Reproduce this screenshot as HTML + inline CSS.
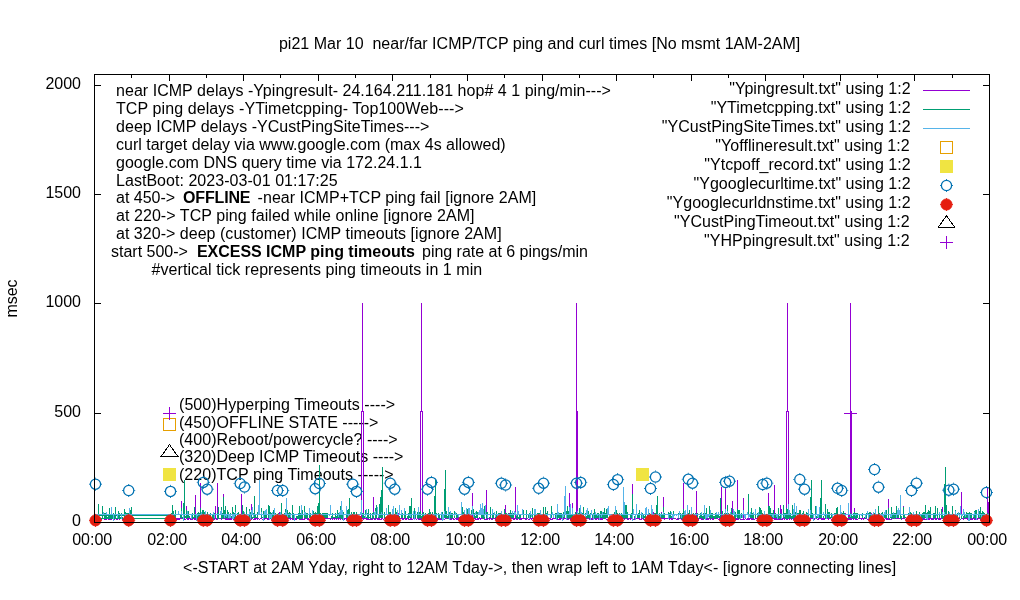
<!DOCTYPE html>
<html lang="en"><head><meta charset="utf-8"><title>pi21 Mar 10 near/far ICMP/TCP ping and curl times</title>
<style>html,body{margin:0;padding:0;background:#fff;width:1020px;height:600px;overflow:hidden}svg{display:block}text{font-family:"Liberation Sans",sans-serif;font-size:16px;fill:#000;white-space:pre}</style>
</head><body>
<svg width="1020" height="600" viewBox="0 0 1020 600" shape-rendering="crispEdges">
<rect width="1020" height="600" fill="#fff"/>
<path d="M94.5 75v6 M94.5 522v-6 M131.5 75v3 M131.5 522v-3 M169.5 75v6 M169.5 522v-6 M206.5 75v3 M206.5 522v-3 M243.5 75v6 M243.5 522v-6 M280.5 75v3 M280.5 522v-3 M318.5 75v6 M318.5 522v-6 M355.5 75v3 M355.5 522v-3 M392.5 75v6 M392.5 522v-6 M430.5 75v3 M430.5 522v-3 M467.5 75v6 M467.5 522v-6 M504.5 75v3 M504.5 522v-3 M542.5 75v6 M542.5 522v-6 M579.5 75v3 M579.5 522v-3 M616.5 75v6 M616.5 522v-6 M653.5 75v3 M653.5 522v-3 M691.5 75v6 M691.5 522v-6 M728.5 75v3 M728.5 522v-3 M765.5 75v6 M765.5 522v-6 M803.5 75v3 M803.5 522v-3 M840.5 75v6 M840.5 522v-6 M877.5 75v3 M877.5 522v-3 M914.5 75v6 M914.5 522v-6 M952.5 75v3 M952.5 522v-3 M989.5 75v6 M989.5 522v-6 M95 522.5h6 M989 522.5h-6 M95 413.5h6 M989 413.5h-6 M95 303.5h6 M989 303.5h-6 M95 194.5h6 M989 194.5h-6 M95 85.5h6 M989 85.5h-6" fill="none" stroke="#000" stroke-width="1"/>
<text x="116.0" y="96.0" textLength="494.9" lengthAdjust="spacing">near ICMP delays -Ypingresult- 24.164.211.181 hop# 4 1 ping/min---&gt;</text>
<text x="116.0" y="113.9" textLength="347.8" lengthAdjust="spacing">TCP ping delays -YTimetcpping- Top100Web---&gt;</text>
<text x="116.0" y="131.8" textLength="313.4" lengthAdjust="spacing">deep ICMP delays -YCustPingSiteTimes---&gt;</text>
<text x="116.0" y="149.7" textLength="389.7" lengthAdjust="spacing">curl target delay via www.google.com (max 4s allowed)</text>
<text x="116.0" y="167.6" textLength="306.0" lengthAdjust="spacing">google.com DNS query time via 172.24.1.1</text>
<text x="116.0" y="185.5" textLength="221.7" lengthAdjust="spacing">LastBoot: 2023-03-01 01:17:25</text>
<text x="116.0" y="203.4" textLength="59.2" lengthAdjust="spacing">at 450-&gt;</text>
<text x="183.1" y="203.4" font-weight="bold" textLength="67.4" lengthAdjust="spacing">OFFLINE</text>
<text x="257.6" y="203.4" textLength="278.6" lengthAdjust="spacing">-near ICMP+TCP ping fail [ignore 2AM]</text>
<text x="116.0" y="221.3" textLength="358.5" lengthAdjust="spacing">at 220-&gt; TCP ping failed while online [ignore 2AM]</text>
<text x="116.0" y="239.2" textLength="385.6" lengthAdjust="spacing">at 320-&gt; deep (customer) ICMP timeouts [ignore 2AM]</text>
<text x="111.0" y="257.1" textLength="76.9" lengthAdjust="spacing">start 500-&gt;</text>
<text x="196.9" y="257.1" font-weight="bold" textLength="218.0" lengthAdjust="spacing">EXCESS ICMP ping timeouts</text>
<text x="422.0" y="257.1" textLength="165.9" lengthAdjust="spacing">ping rate at 6 pings/min</text>
<text x="151.6" y="275.0" textLength="330.6" lengthAdjust="spacing">#vertical tick represents ping timeouts in 1 min</text>
<text x="179.0" y="410.0" textLength="216.2" lengthAdjust="spacing">(500)Hyperping Timeouts ----&gt;</text>
<text x="179.0" y="427.5" textLength="199.4" lengthAdjust="spacing">(450)OFFLINE STATE -----&gt;</text>
<text x="179.0" y="445.0" textLength="218.7" lengthAdjust="spacing">(400)Reboot/powercycle? ----&gt;</text>
<text x="179.0" y="462.4" textLength="224.4" lengthAdjust="spacing">(320)Deep ICMP Timeouts ----&gt;</text>
<text x="179.0" y="479.9" textLength="214.7" lengthAdjust="spacing">(220)TCP ping Timeouts -----&gt;</text>
<g fill="none" stroke-width="1" shape-rendering="crispEdges">
<path stroke="#9400D3" d="M98.5 518V519 M99.5 518V519 M100.5 518V519 M101.5 518V520 M102.5 518V519 M103.5 518V519 M104.5 518V520 M105.5 519V520 M106.5 519V520 M107.5 518V519 M108.5 518V520 M109.5 518V520 M110.5 518V520 M111.5 518V520 M112.5 518V519 M113.5 518V519 M114.5 519V520 M115.5 518V519 M116.5 519V520 M117.5 518V520 M118.5 518V519 M119.5 518V520 M120.5 518V519 M121.5 518V519 M122.5 519V520 M123.5 518V520 M124.5 518V519 M125.5 518V520 M126.5 518V519 M127.5 518V520 M128.5 518V519 M129.5 519V520 M130.5 518V519 M131.5 518V520 M169.5 518V520 M170.5 518V520 M171.5 518V520 M172.5 518V519 M173.5 518V519 M174.5 519V520 M175.5 518V519 M176.5 518V520 M177.5 518V520 M178.5 518V520 M179.5 518V520 M180.5 518V519 M181.5 501V519 M182.5 518V519 M183.5 518V520 M184.5 518V520 M185.5 519V520 M186.5 506V519 M187.5 511V520 M188.5 518V520 M189.5 518V519 M190.5 518V520 M191.5 518V520 M192.5 518V520 M193.5 518V519 M194.5 518V520 M195.5 495V520 M196.5 518V520 M197.5 518V520 M198.5 518V520 M199.5 519V520 M200.5 483V520 M201.5 518V520 M202.5 519V520 M203.5 518V519 M204.5 518V519 M205.5 518V519 M206.5 518V520 M207.5 518V520 M208.5 518V519 M209.5 518V519 M210.5 518V520 M211.5 518V519 M212.5 518V519 M213.5 518V520 M214.5 518V520 M215.5 506V519 M216.5 518V520 M217.5 483V520 M218.5 518V519 M219.5 518V519 M220.5 518V519 M221.5 518V520 M222.5 518V519 M223.5 494V519 M224.5 518V519 M225.5 518V520 M226.5 518V520 M227.5 518V520 M228.5 518V520 M229.5 518V520 M230.5 518V520 M231.5 518V520 M232.5 518V519 M233.5 518V520 M234.5 518V520 M235.5 518V520 M236.5 518V520 M237.5 518V519 M238.5 519V520 M239.5 518V520 M240.5 518V519 M241.5 494V519 M242.5 518V520 M243.5 518V520 M244.5 518V519 M245.5 518V519 M246.5 518V520 M247.5 518V519 M248.5 518V520 M249.5 518V520 M250.5 518V519 M251.5 504V520 M252.5 518V519 M253.5 519V520 M254.5 518V520 M255.5 518V520 M256.5 518V519 M257.5 518V520 M258.5 518V519 M259.5 519V520 M260.5 518V519 M261.5 518V519 M262.5 519V520 M263.5 518V520 M264.5 518V520 M265.5 518V519 M266.5 518V519 M267.5 518V520 M268.5 518V520 M269.5 518V520 M270.5 518V519 M271.5 519V520 M272.5 518V519 M273.5 518V519 M274.5 518V520 M275.5 515V520 M276.5 519V520 M277.5 518V520 M278.5 519V520 M279.5 512V519 M280.5 518V520 M281.5 518V519 M282.5 519V520 M283.5 518V520 M284.5 518V519 M285.5 519V520 M286.5 518V520 M287.5 518V519 M288.5 518V519 M289.5 518V519 M290.5 518V520 M291.5 518V519 M292.5 518V520 M293.5 518V520 M294.5 518V520 M295.5 518V520 M296.5 518V520 M297.5 518V519 M298.5 518V519 M299.5 518V520 M300.5 518V520 M301.5 518V520 M302.5 518V520 M303.5 519V520 M304.5 518V520 M305.5 518V519 M306.5 518V519 M307.5 518V520 M308.5 518V520 M309.5 519V520 M310.5 519V520 M311.5 518V520 M312.5 518V519 M313.5 518V519 M314.5 518V520 M315.5 518V519 M316.5 518V519 M317.5 519V520 M318.5 518V519 M319.5 519V520 M320.5 519V520 M321.5 518V520 M322.5 518V520 M323.5 518V520 M324.5 518V520 M325.5 518V519 M326.5 518V519 M327.5 518V519 M328.5 518V519 M329.5 518V519 M330.5 518V520 M331.5 518V519 M332.5 518V520 M333.5 518V519 M334.5 518V520 M335.5 518V519 M336.5 519V520 M337.5 518V519 M338.5 518V520 M339.5 518V519 M340.5 518V520 M341.5 518V519 M342.5 519V520 M343.5 518V519 M344.5 518V520 M345.5 518V519 M346.5 518V520 M347.5 518V520 M348.5 519V520 M349.5 519V520 M350.5 518V520 M351.5 519V520 M352.5 519V520 M353.5 518V519 M354.5 518V519 M355.5 519V520 M356.5 518V520 M357.5 518V520 M358.5 518V520 M359.5 518V519 M360.5 518V519 M361.5 518V519 M362.5 518V519 M363.5 518V520 M364.5 518V519 M365.5 512V519 M366.5 518V520 M367.5 518V520 M368.5 519V520 M369.5 519V520 M370.5 518V520 M371.5 518V520 M372.5 518V520 M373.5 497V519 M374.5 518V520 M375.5 518V520 M376.5 518V519 M377.5 518V520 M378.5 518V520 M379.5 518V520 M380.5 519V520 M381.5 518V520 M382.5 518V519 M383.5 519V520 M384.5 518V519 M385.5 519V520 M386.5 518V519 M387.5 518V519 M388.5 518V519 M389.5 518V520 M390.5 518V519 M391.5 518V519 M392.5 518V519 M393.5 518V520 M394.5 518V520 M395.5 518V519 M396.5 518V519 M397.5 518V519 M398.5 513V519 M399.5 518V520 M400.5 518V519 M401.5 518V519 M402.5 518V520 M403.5 518V520 M404.5 518V519 M405.5 518V520 M406.5 518V520 M407.5 518V519 M408.5 518V520 M409.5 519V520 M410.5 518V520 M411.5 518V520 M412.5 519V520 M413.5 518V519 M414.5 519V520 M415.5 518V519 M416.5 519V520 M417.5 518V519 M418.5 519V520 M419.5 518V520 M420.5 518V520 M421.5 518V520 M422.5 518V519 M423.5 518V519 M424.5 518V520 M425.5 519V520 M426.5 518V519 M427.5 518V520 M428.5 519V520 M429.5 519V520 M430.5 518V519 M431.5 518V519 M432.5 518V520 M433.5 519V520 M434.5 518V519 M435.5 518V520 M436.5 518V519 M437.5 518V520 M438.5 518V520 M439.5 518V520 M440.5 518V520 M441.5 518V520 M442.5 518V520 M443.5 518V520 M444.5 519V520 M445.5 518V519 M446.5 518V519 M447.5 518V519 M448.5 518V519 M449.5 518V520 M450.5 518V520 M451.5 518V520 M452.5 518V519 M453.5 518V520 M454.5 519V520 M455.5 518V519 M456.5 518V520 M457.5 518V520 M458.5 515V520 M459.5 518V519 M460.5 518V519 M461.5 518V520 M462.5 519V520 M463.5 518V520 M464.5 518V519 M465.5 518V520 M466.5 518V520 M467.5 518V519 M468.5 518V520 M469.5 518V519 M470.5 518V519 M471.5 518V520 M472.5 493V520 M473.5 518V519 M474.5 518V519 M475.5 518V520 M476.5 519V520 M477.5 518V520 M478.5 518V520 M479.5 518V519 M480.5 518V520 M481.5 518V519 M482.5 518V519 M483.5 518V519 M484.5 518V520 M485.5 519V520 M486.5 490V520 M487.5 518V520 M488.5 518V519 M489.5 518V520 M490.5 518V519 M491.5 518V520 M492.5 518V520 M493.5 518V519 M494.5 518V519 M495.5 518V520 M496.5 519V520 M497.5 518V519 M498.5 518V519 M499.5 518V520 M500.5 518V520 M501.5 518V519 M502.5 518V520 M503.5 518V519 M504.5 519V520 M505.5 505V520 M506.5 518V520 M507.5 518V520 M508.5 518V520 M509.5 513V520 M510.5 518V519 M511.5 518V519 M512.5 518V519 M513.5 518V520 M514.5 518V520 M515.5 487V519 M516.5 518V520 M517.5 518V520 M518.5 518V519 M519.5 519V520 M520.5 518V520 M521.5 518V520 M522.5 518V519 M523.5 518V519 M524.5 518V519 M525.5 518V520 M526.5 519V520 M527.5 518V519 M528.5 519V520 M529.5 518V520 M530.5 518V519 M531.5 518V520 M532.5 518V519 M533.5 518V519 M534.5 518V520 M535.5 515V520 M536.5 518V519 M537.5 519V520 M538.5 518V520 M539.5 518V519 M540.5 518V519 M541.5 518V519 M542.5 514V520 M543.5 518V519 M544.5 518V520 M545.5 518V519 M546.5 518V519 M547.5 518V519 M548.5 518V519 M549.5 518V519 M550.5 518V520 M551.5 519V520 M552.5 518V520 M553.5 518V519 M554.5 518V519 M555.5 518V519 M556.5 518V520 M557.5 519V520 M558.5 519V520 M559.5 518V520 M560.5 518V520 M561.5 518V519 M562.5 514V520 M563.5 518V520 M564.5 518V519 M565.5 518V519 M566.5 518V520 M567.5 518V520 M568.5 519V520 M569.5 493V519 M570.5 518V520 M571.5 518V520 M572.5 503V520 M573.5 518V520 M574.5 518V519 M575.5 518V519 M576.5 518V519 M577.5 518V519 M578.5 519V520 M579.5 518V519 M580.5 518V520 M581.5 514V520 M582.5 519V520 M583.5 518V519 M584.5 519V520 M585.5 518V519 M586.5 518V519 M587.5 518V519 M588.5 518V519 M589.5 518V520 M590.5 518V519 M591.5 518V520 M592.5 515V520 M593.5 518V519 M594.5 518V519 M595.5 519V520 M596.5 518V520 M597.5 518V519 M598.5 518V520 M599.5 518V520 M600.5 518V520 M601.5 518V520 M602.5 518V520 M603.5 518V519 M604.5 518V519 M605.5 518V519 M606.5 519V520 M607.5 519V520 M608.5 518V520 M609.5 518V520 M610.5 519V520 M611.5 518V519 M612.5 518V519 M613.5 518V520 M614.5 518V520 M615.5 518V520 M616.5 518V520 M617.5 518V519 M618.5 519V520 M619.5 518V520 M620.5 518V519 M621.5 518V520 M622.5 518V520 M623.5 518V519 M624.5 519V520 M625.5 512V519 M626.5 518V519 M627.5 518V520 M628.5 518V520 M629.5 518V519 M630.5 518V520 M631.5 518V519 M632.5 484V519 M633.5 519V520 M634.5 518V520 M635.5 518V519 M636.5 518V519 M637.5 518V519 M638.5 518V519 M639.5 518V520 M640.5 519V520 M641.5 518V520 M642.5 518V519 M643.5 518V520 M644.5 519V520 M645.5 519V520 M646.5 518V519 M647.5 515V520 M648.5 518V519 M649.5 518V520 M650.5 518V520 M651.5 518V520 M652.5 518V519 M653.5 512V520 M654.5 518V519 M655.5 518V520 M656.5 518V519 M657.5 518V519 M658.5 518V520 M659.5 518V520 M660.5 518V519 M661.5 512V519 M662.5 518V519 M663.5 497V519 M664.5 518V520 M665.5 518V519 M666.5 518V519 M667.5 518V519 M668.5 518V519 M669.5 518V520 M670.5 518V519 M671.5 518V520 M672.5 518V520 M673.5 518V519 M674.5 518V519 M675.5 518V519 M676.5 519V520 M677.5 518V520 M678.5 518V520 M679.5 518V519 M680.5 518V519 M681.5 519V520 M682.5 518V520 M683.5 483V520 M684.5 518V520 M685.5 518V520 M686.5 518V520 M687.5 518V519 M688.5 518V519 M689.5 518V519 M690.5 518V519 M691.5 518V520 M692.5 518V520 M693.5 519V520 M694.5 518V519 M695.5 518V519 M696.5 491V520 M697.5 518V519 M698.5 518V520 M699.5 518V519 M700.5 518V519 M701.5 518V520 M702.5 519V520 M703.5 519V520 M704.5 518V519 M705.5 518V519 M706.5 518V520 M707.5 519V520 M708.5 518V520 M709.5 518V519 M710.5 518V520 M711.5 518V519 M712.5 518V520 M713.5 518V520 M714.5 518V519 M715.5 518V519 M716.5 518V519 M717.5 518V519 M718.5 519V520 M719.5 518V520 M720.5 518V519 M721.5 487V520 M722.5 518V520 M723.5 518V519 M724.5 518V519 M725.5 489V519 M726.5 518V519 M727.5 518V520 M728.5 518V520 M729.5 518V520 M730.5 518V520 M731.5 518V519 M732.5 501V520 M733.5 518V519 M734.5 518V519 M735.5 518V520 M736.5 518V520 M737.5 480V520 M738.5 518V520 M739.5 518V519 M740.5 518V520 M741.5 519V520 M742.5 519V520 M743.5 498V520 M744.5 519V520 M745.5 518V519 M746.5 519V520 M747.5 518V520 M748.5 518V520 M749.5 518V520 M750.5 518V519 M751.5 518V520 M752.5 515V520 M753.5 518V520 M754.5 519V520 M755.5 518V519 M756.5 518V519 M757.5 518V520 M758.5 518V520 M759.5 518V519 M760.5 518V519 M761.5 518V519 M762.5 519V520 M763.5 518V520 M764.5 518V519 M765.5 518V519 M766.5 519V520 M767.5 519V520 M768.5 493V520 M769.5 518V520 M770.5 518V520 M771.5 518V519 M772.5 518V519 M773.5 518V519 M774.5 485V520 M775.5 518V520 M776.5 518V520 M777.5 518V520 M778.5 519V520 M779.5 518V520 M780.5 505V520 M781.5 509V520 M782.5 518V520 M783.5 518V519 M784.5 518V520 M785.5 518V519 M786.5 519V520 M787.5 518V520 M788.5 518V519 M789.5 518V520 M790.5 518V519 M791.5 518V520 M792.5 513V519 M793.5 518V520 M794.5 518V520 M795.5 518V519 M796.5 518V520 M797.5 518V519 M798.5 518V520 M799.5 518V520 M800.5 518V519 M801.5 518V520 M802.5 518V520 M803.5 518V519 M804.5 518V520 M805.5 518V520 M806.5 518V519 M807.5 518V520 M808.5 510V520 M809.5 518V520 M810.5 518V520 M811.5 518V519 M812.5 518V519 M813.5 518V519 M814.5 518V520 M815.5 518V519 M816.5 518V519 M817.5 519V520 M818.5 518V520 M819.5 518V519 M820.5 518V519 M821.5 518V520 M822.5 518V520 M823.5 518V520 M824.5 518V520 M825.5 518V519 M826.5 518V519 M827.5 518V519 M828.5 518V520 M829.5 518V519 M830.5 518V519 M831.5 519V520 M832.5 518V520 M833.5 519V520 M834.5 519V520 M835.5 518V520 M836.5 518V520 M837.5 518V519 M838.5 518V520 M839.5 518V519 M840.5 518V519 M841.5 518V520 M842.5 518V519 M843.5 518V520 M844.5 518V520 M845.5 513V520 M846.5 518V520 M847.5 518V520 M848.5 515V520 M849.5 515V520 M850.5 518V520 M851.5 519V520 M852.5 518V519 M853.5 518V520 M854.5 508V519 M855.5 518V520 M856.5 518V520 M857.5 519V520 M858.5 518V519 M859.5 518V519 M860.5 518V519 M861.5 518V520 M862.5 518V519 M863.5 518V520 M864.5 518V519 M865.5 518V519 M866.5 518V519 M867.5 519V520 M868.5 518V520 M869.5 518V520 M870.5 518V520 M871.5 513V520 M872.5 519V520 M873.5 518V519 M874.5 518V520 M875.5 518V519 M876.5 518V519 M877.5 518V520 M878.5 519V520 M879.5 519V520 M880.5 519V520 M881.5 519V520 M882.5 518V520 M883.5 518V520 M884.5 519V520 M885.5 518V519 M886.5 518V520 M887.5 518V520 M888.5 499V520 M889.5 518V520 M890.5 519V520 M891.5 519V520 M892.5 518V519 M893.5 515V519 M894.5 518V519 M895.5 514V519 M896.5 518V519 M897.5 518V519 M898.5 518V519 M899.5 518V519 M900.5 518V519 M901.5 518V520 M902.5 518V519 M903.5 506V519 M904.5 518V519 M905.5 519V520 M906.5 518V520 M907.5 518V519 M908.5 513V519 M909.5 518V520 M910.5 518V519 M911.5 518V520 M912.5 518V519 M913.5 518V519 M914.5 518V519 M915.5 518V519 M916.5 518V519 M917.5 518V520 M918.5 518V519 M919.5 518V520 M920.5 518V520 M921.5 518V520 M922.5 518V520 M923.5 512V520 M924.5 518V520 M925.5 519V520 M926.5 518V520 M927.5 518V520 M928.5 518V520 M929.5 518V520 M930.5 518V519 M931.5 518V520 M932.5 518V520 M933.5 519V520 M934.5 518V519 M935.5 518V520 M936.5 518V520 M937.5 518V519 M938.5 518V520 M939.5 518V520 M940.5 518V520 M941.5 518V519 M942.5 507V519 M943.5 518V519 M944.5 518V519 M945.5 519V520 M946.5 518V519 M947.5 518V520 M948.5 518V519 M949.5 518V519 M950.5 518V520 M951.5 518V520 M952.5 518V520 M953.5 519V520 M954.5 518V519 M955.5 518V520 M956.5 518V520 M957.5 519V520 M958.5 518V519 M959.5 518V519 M960.5 519V520 M961.5 492V519 M962.5 518V519 M963.5 518V520 M964.5 518V519 M965.5 518V519 M966.5 518V519 M967.5 518V520 M968.5 519V520 M969.5 518V519 M970.5 518V520 M971.5 518V520 M972.5 518V520 M973.5 518V519 M974.5 518V520 M975.5 518V520 M976.5 518V520 M977.5 518V520 M978.5 518V519 M979.5 518V519 M980.5 518V520 M981.5 518V520 M982.5 518V520 M983.5 513V520 M984.5 518V519 M985.5 518V519 M986.5 518V520 M987.5 488V520 M988.5 502V520"/>
<path stroke="#9400D3" d="M361.5 519V411.5H362.5V303V411.5H363.5V519 M420.5 519V411.5H421.5V303V411.5H422.5V519 M576.5 519V303 M577.5 519V411 M786.5 519V411.5H787.5V303V411.5H788.5V519 M850.5 519V303 M851.5 519V411"/>
<path stroke="#009E73" d="M95 515.5H170 M95 518.5H170"/>
<path stroke="#009E73" d="M98.5 504V518 M99.5 517V519 M102.5 506V518 M104.5 513V519 M105.5 513V518 M106.5 515V518 M107.5 517V518 M108.5 516V519 M109.5 508V519 M110.5 516V519 M111.5 509V519 M112.5 515V518 M113.5 513V519 M114.5 516V519 M115.5 507V518 M118.5 511V518 M119.5 513V518 M120.5 517V518 M121.5 513V518 M122.5 517V518 M124.5 509V518 M125.5 512V518 M126.5 513V518 M127.5 513V519 M128.5 513V518 M129.5 508V519 M130.5 510V519 M131.5 507V518 M169.5 517V519 M170.5 515V518 M171.5 513V519 M172.5 505V518 M173.5 511V518 M174.5 515V519 M175.5 510V519 M180.5 515V518 M181.5 508V518 M182.5 517V519 M183.5 503V518 M184.5 480V518 M185.5 516V518 M186.5 510V519 M187.5 513V518 M188.5 511V518 M189.5 516V518 M191.5 515V518 M192.5 513V519 M193.5 517V518 M194.5 507V518 M195.5 515V518 M196.5 516V519 M197.5 513V519 M198.5 512V518 M199.5 513V518 M200.5 508V518 M201.5 515V518 M202.5 510V518 M203.5 510V518 M204.5 512V518 M205.5 513V518 M207.5 512V519 M208.5 516V519 M209.5 515V518 M210.5 513V518 M212.5 515V518 M213.5 512V519 M214.5 513V519 M217.5 513V519 M218.5 507V519 M221.5 507V519 M222.5 513V519 M223.5 497V518 M224.5 510V518 M225.5 506V519 M226.5 515V518 M227.5 510V518 M228.5 512V519 M229.5 515V518 M230.5 513V518 M231.5 516V518 M232.5 507V518 M233.5 512V518 M234.5 513V519 M235.5 505V518 M237.5 513V518 M238.5 512V518 M239.5 516V519 M241.5 515V518 M242.5 505V518 M243.5 511V519 M244.5 512V518 M246.5 507V518 M249.5 509V519 M250.5 512V518 M251.5 515V518 M252.5 517V519 M253.5 513V518 M254.5 496V518 M255.5 515V518 M256.5 517V518 M257.5 512V518 M261.5 508V518 M262.5 517V518 M263.5 511V518 M264.5 513V518 M265.5 511V518 M266.5 513V518 M268.5 505V518 M269.5 506V518 M270.5 512V519 M271.5 513V518 M272.5 512V518 M273.5 510V519 M275.5 513V519 M278.5 513V518 M280.5 513V518 M281.5 503V518 M284.5 513V519 M285.5 509V518 M286.5 498V518 M287.5 510V518 M288.5 513V518 M289.5 512V518 M290.5 513V518 M292.5 505V518 M293.5 513V519 M296.5 516V518 M297.5 516V519 M298.5 513V519 M299.5 506V519 M300.5 513V519 M301.5 513V519 M302.5 510V518 M304.5 506V518 M305.5 513V518 M306.5 513V519 M307.5 513V518 M309.5 509V518 M310.5 513V518 M311.5 517V519 M312.5 515V518 M313.5 511V518 M314.5 513V518 M315.5 512V518 M316.5 513V518 M317.5 506V519 M318.5 503V518 M319.5 465V518 M320.5 513V519 M321.5 516V518 M322.5 513V518 M323.5 513V518 M324.5 513V518 M325.5 513V518 M326.5 513V518 M327.5 513V518 M331.5 516V519 M332.5 513V518 M333.5 517V518 M334.5 517V518 M335.5 513V518 M336.5 516V519 M337.5 510V518 M338.5 513V518 M339.5 512V518 M340.5 506V518 M341.5 512V519 M342.5 512V519 M343.5 512V518 M346.5 513V518 M347.5 510V518 M348.5 509V518 M349.5 498V518 M350.5 515V518 M351.5 512V519 M353.5 512V518 M354.5 512V518 M355.5 515V519 M356.5 512V519 M360.5 516V518 M362.5 513V518 M363.5 513V518 M364.5 516V518 M365.5 510V518 M366.5 517V518 M367.5 513V518 M368.5 509V519 M369.5 517V518 M370.5 513V519 M372.5 513V519 M373.5 512V518 M375.5 508V519 M376.5 505V518 M378.5 515V518 M379.5 504V518 M380.5 497V518 M381.5 490V518 M382.5 467V518 M384.5 512V518 M385.5 517V519 M388.5 505V518 M389.5 512V518 M390.5 512V518 M392.5 513V518 M393.5 517V519 M395.5 508V518 M396.5 512V518 M397.5 512V518 M398.5 516V518 M399.5 516V519 M401.5 513V518 M402.5 513V518 M404.5 513V519 M405.5 511V518 M407.5 516V518 M408.5 513V519 M409.5 506V518 M410.5 506V518 M411.5 498V518 M413.5 512V518 M414.5 508V518 M415.5 513V518 M417.5 512V518 M418.5 515V519 M419.5 512V518 M420.5 511V518 M421.5 516V519 M422.5 513V518 M423.5 512V518 M425.5 513V519 M427.5 516V519 M428.5 513V518 M429.5 509V518 M430.5 512V519 M432.5 512V519 M433.5 516V518 M434.5 496V518 M435.5 480V518 M436.5 513V519 M438.5 513V518 M439.5 515V519 M441.5 515V519 M442.5 512V518 M444.5 489V518 M445.5 470V518 M446.5 511V518 M447.5 516V519 M448.5 513V518 M449.5 512V518 M450.5 513V518 M451.5 513V519 M452.5 513V518 M454.5 511V518 M456.5 513V518 M457.5 515V518 M459.5 517V519 M460.5 516V518 M462.5 507V518 M463.5 512V519 M464.5 513V519 M466.5 515V518 M467.5 509V519 M468.5 510V518 M469.5 511V518 M471.5 510V518 M473.5 509V519 M474.5 513V518 M475.5 516V518 M476.5 511V518 M477.5 512V518 M479.5 517V518 M481.5 515V518 M482.5 505V518 M483.5 515V519 M484.5 506V519 M486.5 512V518 M487.5 512V519 M489.5 517V518 M490.5 507V518 M492.5 511V519 M493.5 513V518 M495.5 517V518 M496.5 511V518 M497.5 517V518 M498.5 513V519 M499.5 513V518 M500.5 513V519 M501.5 513V519 M502.5 516V518 M503.5 515V518 M504.5 509V518 M505.5 513V519 M506.5 513V518 M508.5 513V518 M509.5 515V518 M510.5 510V518 M511.5 513V518 M512.5 513V518 M513.5 513V518 M516.5 515V519 M517.5 506V518 M518.5 517V519 M519.5 515V519 M520.5 515V518 M523.5 510V518 M526.5 510V519 M528.5 515V518 M529.5 513V518 M530.5 515V518 M532.5 508V518 M534.5 513V518 M535.5 512V518 M536.5 517V518 M537.5 513V518 M538.5 513V518 M539.5 513V519 M543.5 507V518 M544.5 515V518 M545.5 507V519 M546.5 513V518 M547.5 511V518 M550.5 515V518 M551.5 506V518 M553.5 515V518 M555.5 513V518 M556.5 513V519 M557.5 513V519 M558.5 512V518 M559.5 513V518 M560.5 513V518 M561.5 513V518 M563.5 512V518 M564.5 510V518 M566.5 511V518 M567.5 506V518 M568.5 511V519 M569.5 513V518 M570.5 512V518 M571.5 515V519 M572.5 512V519 M573.5 515V519 M574.5 515V518 M575.5 512V519 M576.5 513V519 M578.5 513V519 M579.5 508V518 M580.5 513V518 M581.5 513V519 M582.5 513V519 M583.5 507V518 M585.5 513V518 M586.5 516V519 M587.5 513V518 M588.5 511V518 M589.5 515V519 M590.5 513V518 M592.5 515V518 M593.5 513V518 M594.5 509V518 M595.5 513V519 M596.5 515V518 M597.5 513V518 M598.5 513V518 M599.5 516V519 M600.5 511V518 M601.5 511V518 M602.5 513V518 M603.5 512V519 M604.5 508V519 M605.5 513V518 M606.5 509V518 M607.5 512V518 M609.5 516V518 M614.5 512V519 M615.5 517V518 M616.5 510V518 M617.5 513V518 M619.5 513V518 M621.5 513V519 M622.5 515V518 M623.5 507V518 M624.5 508V519 M625.5 505V518 M626.5 505V518 M627.5 512V519 M630.5 515V518 M631.5 513V518 M632.5 494V518 M634.5 516V518 M637.5 515V518 M638.5 513V518 M639.5 510V518 M641.5 513V518 M642.5 513V518 M643.5 515V519 M644.5 516V518 M645.5 512V519 M648.5 513V518 M649.5 513V518 M650.5 517V518 M652.5 509V519 M654.5 513V518 M655.5 513V518 M656.5 505V518 M657.5 496V518 M659.5 513V518 M661.5 513V518 M662.5 515V518 M663.5 507V518 M664.5 513V518 M668.5 512V519 M669.5 513V518 M670.5 511V518 M671.5 516V518 M673.5 511V519 M678.5 513V519 M680.5 513V518 M681.5 516V519 M682.5 513V519 M683.5 509V518 M684.5 513V519 M685.5 515V518 M686.5 516V518 M687.5 511V519 M688.5 513V518 M689.5 510V519 M690.5 515V518 M691.5 513V518 M692.5 515V519 M693.5 513V518 M694.5 515V518 M695.5 513V518 M697.5 513V519 M699.5 516V519 M700.5 513V518 M701.5 515V518 M702.5 516V519 M703.5 513V519 M704.5 515V519 M705.5 513V519 M706.5 508V518 M707.5 515V519 M709.5 506V518 M710.5 515V518 M711.5 513V519 M712.5 513V518 M713.5 516V518 M714.5 516V519 M715.5 513V519 M716.5 512V518 M717.5 515V518 M718.5 513V518 M719.5 516V518 M720.5 498V518 M722.5 511V518 M723.5 515V518 M724.5 513V519 M725.5 512V519 M726.5 513V518 M727.5 505V518 M728.5 513V519 M729.5 515V518 M730.5 517V518 M731.5 508V518 M732.5 513V518 M734.5 513V518 M735.5 512V519 M737.5 509V518 M738.5 510V519 M739.5 510V518 M740.5 516V518 M741.5 513V518 M744.5 516V518 M748.5 494V518 M750.5 515V518 M751.5 508V518 M752.5 513V518 M753.5 515V519 M755.5 513V518 M757.5 513V518 M758.5 513V519 M759.5 507V518 M760.5 508V518 M761.5 510V518 M762.5 513V518 M763.5 515V518 M764.5 516V519 M768.5 506V518 M769.5 506V518 M770.5 508V518 M771.5 513V519 M772.5 513V518 M773.5 510V518 M774.5 515V518 M775.5 513V518 M776.5 515V518 M778.5 508V519 M779.5 516V518 M780.5 513V519 M783.5 505V518 M784.5 513V518 M785.5 513V519 M786.5 508V519 M787.5 509V519 M788.5 513V519 M789.5 513V518 M790.5 513V518 M791.5 516V519 M792.5 505V519 M793.5 515V518 M794.5 508V518 M795.5 512V518 M797.5 513V518 M798.5 513V519 M799.5 510V518 M800.5 510V519 M801.5 516V518 M802.5 513V519 M803.5 511V518 M804.5 516V518 M806.5 512V519 M807.5 513V518 M808.5 515V519 M810.5 497V518 M811.5 480V518 M812.5 513V518 M813.5 516V519 M815.5 506V519 M816.5 516V518 M817.5 516V518 M819.5 512V518 M820.5 498V518 M821.5 480V518 M823.5 516V518 M825.5 504V519 M827.5 509V518 M828.5 512V518 M829.5 512V519 M830.5 517V518 M831.5 513V518 M832.5 515V519 M834.5 513V518 M835.5 513V518 M836.5 508V519 M837.5 507V519 M840.5 513V518 M841.5 516V519 M842.5 513V518 M843.5 511V519 M844.5 513V519 M845.5 516V518 M848.5 517V518 M849.5 517V519 M850.5 513V518 M851.5 515V518 M852.5 516V519 M853.5 513V518 M854.5 512V518 M855.5 513V519 M856.5 513V519 M857.5 513V518 M859.5 515V519 M862.5 513V518 M864.5 517V518 M865.5 515V519 M866.5 513V518 M868.5 513V518 M869.5 512V519 M870.5 512V518 M871.5 515V519 M874.5 513V518 M876.5 517V518 M878.5 506V518 M879.5 513V518 M881.5 513V518 M882.5 512V519 M884.5 515V518 M885.5 511V518 M886.5 510V518 M888.5 508V519 M890.5 516V518 M891.5 507V519 M892.5 513V518 M893.5 515V519 M894.5 513V518 M895.5 513V519 M896.5 506V518 M897.5 515V518 M898.5 512V518 M900.5 513V519 M901.5 516V519 M903.5 507V518 M904.5 515V518 M905.5 517V518 M908.5 513V518 M909.5 512V519 M910.5 512V519 M911.5 513V519 M913.5 512V519 M915.5 516V518 M916.5 511V518 M918.5 515V518 M919.5 512V518 M921.5 515V518 M922.5 513V518 M923.5 512V519 M924.5 512V518 M925.5 505V518 M926.5 513V519 M927.5 512V518 M928.5 510V518 M929.5 511V518 M930.5 507V518 M933.5 513V519 M934.5 513V518 M935.5 506V518 M937.5 508V519 M939.5 513V518 M941.5 509V518 M942.5 513V519 M943.5 516V518 M944.5 484V518 M945.5 467V518 M946.5 505V518 M947.5 515V519 M948.5 511V518 M952.5 506V518 M953.5 515V518 M954.5 515V519 M955.5 510V518 M956.5 516V518 M957.5 513V518 M959.5 513V518 M961.5 515V519 M963.5 516V518 M964.5 513V519 M965.5 515V518 M966.5 512V518 M967.5 513V518 M968.5 513V519 M969.5 512V518 M970.5 513V518 M971.5 513V519 M973.5 517V518 M974.5 511V518 M975.5 510V519 M976.5 510V518 M978.5 513V518 M979.5 511V518 M980.5 507V519 M981.5 513V518 M982.5 511V519 M983.5 512V518 M984.5 513V518 M987.5 513V519 M988.5 515V519"/>
<path stroke="#56B4E9" d="M95 514.5H989"/>
<path stroke="#56B4E9" d="M98.5 514V517 M103.5 512V515 M106.5 512V515 M111.5 507V515 M113.5 514V521 M117.5 514V518 M121.5 514V519 M125.5 514V518 M129.5 508V515 M130.5 514V517 M131.5 514V517 M170.5 514V521 M171.5 514V518 M172.5 514V517 M178.5 511V515 M181.5 511V515 M183.5 514V521 M187.5 511V515 M191.5 514V519 M196.5 514V521 M197.5 514V516 M200.5 514V519 M201.5 512V515 M205.5 511V515 M213.5 512V515 M214.5 514V518 M220.5 511V515 M221.5 510V515 M224.5 514V518 M225.5 514V516 M226.5 514V517 M228.5 514V518 M229.5 514V518 M230.5 514V518 M232.5 514V519 M233.5 514V519 M234.5 514V517 M235.5 512V515 M238.5 514V521 M241.5 514V518 M244.5 512V515 M245.5 514V517 M246.5 514V518 M248.5 514V519 M249.5 511V515 M250.5 514V520 M251.5 510V515 M252.5 507V515 M253.5 514V517 M258.5 505V515 M259.5 480V515 M261.5 512V515 M263.5 514V521 M264.5 511V515 M265.5 510V515 M266.5 509V515 M269.5 514V520 M270.5 514V518 M271.5 514V519 M272.5 512V515 M274.5 508V515 M278.5 514V518 M280.5 512V515 M281.5 514V520 M283.5 514V517 M285.5 512V515 M286.5 498V515 M287.5 514V518 M290.5 514V517 M294.5 514V521 M301.5 505V515 M304.5 512V515 M305.5 512V515 M309.5 508V515 M312.5 510V515 M315.5 514V517 M318.5 514V518 M319.5 514V516 M321.5 514V516 M329.5 514V516 M330.5 505V515 M338.5 514V517 M339.5 512V515 M340.5 510V515 M341.5 501V515 M342.5 510V515 M343.5 514V521 M346.5 506V515 M348.5 514V520 M352.5 514V517 M355.5 514V516 M357.5 514V520 M360.5 512V515 M361.5 500V515 M365.5 514V518 M366.5 509V515 M373.5 514V516 M374.5 512V515 M375.5 511V515 M377.5 507V515 M378.5 514V517 M381.5 512V515 M386.5 508V515 M387.5 514V520 M388.5 514V518 M389.5 514V520 M391.5 514V518 M392.5 509V515 M393.5 506V515 M395.5 514V518 M397.5 510V515 M399.5 505V515 M401.5 510V515 M404.5 508V515 M409.5 514V516 M410.5 514V517 M413.5 511V515 M414.5 514V520 M415.5 511V515 M418.5 507V515 M429.5 514V516 M430.5 514V520 M431.5 514V520 M432.5 514V517 M434.5 514V516 M436.5 514V521 M441.5 512V515 M442.5 514V521 M443.5 514V520 M444.5 511V515 M448.5 507V515 M449.5 514V520 M450.5 511V515 M454.5 514V516 M455.5 512V515 M458.5 514V517 M461.5 502V515 M464.5 510V515 M466.5 508V515 M468.5 508V515 M469.5 508V515 M471.5 514V521 M472.5 506V515 M473.5 514V521 M475.5 512V515 M478.5 512V515 M479.5 510V515 M480.5 504V515 M481.5 508V515 M482.5 503V515 M483.5 509V515 M484.5 514V517 M485.5 505V515 M487.5 514V518 M492.5 509V515 M494.5 512V515 M495.5 514V517 M497.5 514V517 M498.5 514V520 M499.5 514V518 M500.5 514V516 M501.5 511V515 M502.5 514V517 M503.5 514V521 M512.5 511V515 M514.5 511V515 M515.5 512V515 M516.5 514V516 M517.5 505V515 M518.5 511V515 M522.5 509V515 M529.5 514V519 M530.5 511V515 M531.5 514V517 M534.5 509V515 M535.5 509V515 M537.5 514V520 M540.5 510V515 M541.5 514V517 M542.5 514V518 M545.5 514V517 M547.5 514V517 M550.5 514V518 M552.5 512V515 M553.5 514V518 M556.5 514V520 M557.5 504V515 M558.5 512V515 M562.5 514V521 M563.5 514V517 M564.5 496V515 M565.5 486V515 M566.5 514V520 M569.5 507V515 M570.5 504V515 M572.5 508V515 M573.5 514V517 M574.5 514V520 M575.5 514V518 M576.5 514V518 M577.5 511V515 M580.5 505V515 M581.5 512V515 M582.5 514V517 M585.5 514V518 M586.5 510V515 M587.5 508V515 M590.5 514V520 M591.5 510V515 M593.5 514V520 M595.5 512V515 M597.5 514V516 M599.5 514V520 M601.5 514V517 M602.5 512V515 M607.5 508V515 M608.5 506V515 M609.5 514V521 M612.5 514V517 M614.5 514V521 M615.5 506V515 M618.5 514V517 M619.5 514V518 M623.5 487V515 M624.5 502V515 M632.5 514V521 M633.5 509V515 M635.5 514V520 M636.5 504V515 M641.5 512V515 M642.5 514V518 M645.5 508V515 M646.5 507V515 M648.5 509V515 M651.5 505V515 M652.5 509V515 M653.5 514V518 M660.5 514V519 M663.5 512V515 M668.5 514V519 M671.5 512V515 M672.5 514V518 M673.5 514V518 M674.5 514V516 M676.5 514V516 M678.5 514V518 M679.5 511V515 M681.5 514V518 M684.5 511V515 M685.5 510V515 M686.5 514V516 M687.5 505V515 M690.5 514V518 M691.5 507V515 M694.5 514V518 M695.5 514V516 M701.5 512V515 M703.5 514V516 M704.5 505V515 M705.5 514V520 M706.5 514V518 M707.5 514V518 M708.5 514V517 M709.5 514V516 M710.5 510V515 M716.5 512V515 M718.5 512V515 M723.5 514V521 M725.5 509V515 M726.5 514V518 M727.5 511V515 M728.5 514V521 M730.5 512V515 M732.5 514V520 M733.5 509V515 M734.5 511V515 M736.5 514V517 M740.5 514V519 M742.5 514V518 M743.5 510V515 M744.5 514V518 M745.5 514V518 M747.5 512V515 M748.5 514V518 M749.5 514V517 M750.5 512V515 M753.5 512V515 M755.5 509V515 M757.5 514V516 M758.5 512V515 M761.5 514V521 M762.5 514V518 M763.5 514V521 M764.5 511V515 M772.5 514V517 M773.5 514V518 M776.5 514V517 M777.5 514V519 M781.5 514V519 M784.5 514V517 M788.5 504V515 M789.5 510V515 M792.5 514V516 M793.5 509V515 M794.5 503V515 M796.5 506V515 M798.5 514V516 M800.5 514V519 M803.5 514V517 M807.5 514V517 M808.5 509V515 M810.5 510V515 M813.5 514V521 M815.5 514V519 M816.5 506V515 M817.5 514V517 M818.5 514V518 M819.5 507V515 M823.5 512V515 M824.5 514V516 M826.5 514V519 M832.5 514V518 M834.5 514V517 M836.5 514V518 M840.5 505V515 M841.5 512V515 M842.5 514V519 M845.5 514V519 M848.5 503V515 M850.5 514V517 M855.5 514V516 M861.5 514V516 M865.5 514V518 M867.5 511V515 M868.5 514V519 M871.5 514V516 M872.5 514V518 M873.5 512V515 M875.5 509V515 M877.5 514V517 M881.5 514V520 M882.5 514V520 M883.5 514V517 M884.5 512V515 M885.5 510V515 M890.5 514V517 M891.5 514V517 M893.5 512V515 M896.5 514V518 M897.5 510V515 M898.5 508V515 M899.5 510V515 M900.5 495V515 M909.5 507V515 M911.5 514V517 M913.5 512V515 M914.5 514V518 M920.5 514V516 M925.5 514V517 M926.5 514V519 M927.5 514V520 M936.5 514V516 M939.5 512V515 M942.5 512V515 M944.5 512V515 M947.5 514V520 M949.5 512V515 M950.5 514V517 M953.5 514V517 M955.5 511V515 M956.5 514V520 M958.5 512V515 M959.5 514V517 M960.5 506V515 M961.5 514V516 M962.5 514V516 M963.5 509V515 M964.5 512V515 M965.5 514V517 M968.5 514V521 M969.5 514V521 M973.5 514V517 M974.5 512V515 M976.5 514V520 M978.5 509V515 M979.5 514V517 M981.5 514V519 M984.5 514V519 M987.5 514V519"/>
</g>
<rect x="163.5" y="418.6" width="12" height="12" fill="none" stroke="#E69F00" stroke-width="1"/>
<rect x="163.2" y="468.2" width="12.6" height="12.6" fill="#F0E442"/>
<rect x="636.3" y="468.1" width="12.6" height="12.6" fill="#F0E442"/>
<g stroke="#0072B2" fill="none" stroke-width="1.25" shape-rendering="geometricPrecision"><circle cx="95.5" cy="484.2" r="5.1"/><path stroke-width="1" d="M95.5 478.6 v-0.9 M95.5 489.8 v0.9 M89.9 484.2 h-0.9 M101.1 484.2 h0.9"/></g>
<g stroke="#0072B2" fill="none" stroke-width="1.25" shape-rendering="geometricPrecision"><circle cx="128.7" cy="490.5" r="5.1"/><path stroke-width="1" d="M128.7 484.9 v-0.9 M128.7 496.1 v0.9 M123.1 490.5 h-0.9 M134.3 490.5 h0.9"/></g>
<g stroke="#0072B2" fill="none" stroke-width="1.25" shape-rendering="geometricPrecision"><circle cx="170.5" cy="491.4" r="5.1"/><path stroke-width="1" d="M170.5 485.8 v-0.9 M170.5 497.0 v0.9 M164.9 491.4 h-0.9 M176.1 491.4 h0.9"/></g>
<g stroke="#0072B2" fill="none" stroke-width="1.25" shape-rendering="geometricPrecision"><circle cx="203.3" cy="482.4" r="5.1"/><path stroke-width="1" d="M203.3 476.8 v-0.9 M203.3 488.0 v0.9 M197.7 482.4 h-0.9 M208.9 482.4 h0.9"/></g>
<g stroke="#0072B2" fill="none" stroke-width="1.25" shape-rendering="geometricPrecision"><circle cx="207.2" cy="489.2" r="5.1"/><path stroke-width="1" d="M207.2 483.6 v-0.9 M207.2 494.8 v0.9 M201.6 489.2 h-0.9 M212.8 489.2 h0.9"/></g>
<g stroke="#0072B2" fill="none" stroke-width="1.25" shape-rendering="geometricPrecision"><circle cx="240.2" cy="483.5" r="5.1"/><path stroke-width="1" d="M240.2 477.9 v-0.9 M240.2 489.1 v0.9 M234.6 483.5 h-0.9 M245.8 483.5 h0.9"/></g>
<g stroke="#0072B2" fill="none" stroke-width="1.25" shape-rendering="geometricPrecision"><circle cx="244.5" cy="487.0" r="5.1"/><path stroke-width="1" d="M244.5 481.4 v-0.9 M244.5 492.6 v0.9 M238.9 487.0 h-0.9 M250.1 487.0 h0.9"/></g>
<g stroke="#0072B2" fill="none" stroke-width="1.25" shape-rendering="geometricPrecision"><circle cx="277.5" cy="490.5" r="5.1"/><path stroke-width="1" d="M277.5 484.9 v-0.9 M277.5 496.1 v0.9 M271.9 490.5 h-0.9 M283.1 490.5 h0.9"/></g>
<g stroke="#0072B2" fill="none" stroke-width="1.25" shape-rendering="geometricPrecision"><circle cx="282.7" cy="490.5" r="5.1"/><path stroke-width="1" d="M282.7 484.9 v-0.9 M282.7 496.1 v0.9 M277.1 490.5 h-0.9 M288.3 490.5 h0.9"/></g>
<g stroke="#0072B2" fill="none" stroke-width="1.25" shape-rendering="geometricPrecision"><circle cx="315.2" cy="488.7" r="5.1"/><path stroke-width="1" d="M315.2 483.1 v-0.9 M315.2 494.3 v0.9 M309.6 488.7 h-0.9 M320.8 488.7 h0.9"/></g>
<g stroke="#0072B2" fill="none" stroke-width="1.25" shape-rendering="geometricPrecision"><circle cx="319.4" cy="483.5" r="5.1"/><path stroke-width="1" d="M319.4 477.9 v-0.9 M319.4 489.1 v0.9 M313.8 483.5 h-0.9 M325.0 483.5 h0.9"/></g>
<g stroke="#0072B2" fill="none" stroke-width="1.25" shape-rendering="geometricPrecision"><circle cx="352.7" cy="484.2" r="5.1"/><path stroke-width="1" d="M352.7 478.6 v-0.9 M352.7 489.8 v0.9 M347.1 484.2 h-0.9 M358.3 484.2 h0.9"/></g>
<g stroke="#0072B2" fill="none" stroke-width="1.25" shape-rendering="geometricPrecision"><circle cx="356.5" cy="491.4" r="5.1"/><path stroke-width="1" d="M356.5 485.8 v-0.9 M356.5 497.0 v0.9 M350.9 491.4 h-0.9 M362.1 491.4 h0.9"/></g>
<g stroke="#0072B2" fill="none" stroke-width="1.25" shape-rendering="geometricPrecision"><circle cx="390.3" cy="483.2" r="5.1"/><path stroke-width="1" d="M390.3 477.6 v-0.9 M390.3 488.8 v0.9 M384.7 483.2 h-0.9 M395.9 483.2 h0.9"/></g>
<g stroke="#0072B2" fill="none" stroke-width="1.25" shape-rendering="geometricPrecision"><circle cx="394.7" cy="489.2" r="5.1"/><path stroke-width="1" d="M394.7 483.6 v-0.9 M394.7 494.8 v0.9 M389.1 489.2 h-0.9 M400.3 489.2 h0.9"/></g>
<g stroke="#0072B2" fill="none" stroke-width="1.25" shape-rendering="geometricPrecision"><circle cx="427.5" cy="489.2" r="5.1"/><path stroke-width="1" d="M427.5 483.6 v-0.9 M427.5 494.8 v0.9 M421.9 489.2 h-0.9 M433.1 489.2 h0.9"/></g>
<g stroke="#0072B2" fill="none" stroke-width="1.25" shape-rendering="geometricPrecision"><circle cx="431.5" cy="482.4" r="5.1"/><path stroke-width="1" d="M431.5 476.8 v-0.9 M431.5 488.0 v0.9 M425.9 482.4 h-0.9 M437.1 482.4 h0.9"/></g>
<g stroke="#0072B2" fill="none" stroke-width="1.25" shape-rendering="geometricPrecision"><circle cx="464.5" cy="489.2" r="5.1"/><path stroke-width="1" d="M464.5 483.6 v-0.9 M464.5 494.8 v0.9 M458.9 489.2 h-0.9 M470.1 489.2 h0.9"/></g>
<g stroke="#0072B2" fill="none" stroke-width="1.25" shape-rendering="geometricPrecision"><circle cx="468.4" cy="482.4" r="5.1"/><path stroke-width="1" d="M468.4 476.8 v-0.9 M468.4 488.0 v0.9 M462.8 482.4 h-0.9 M474.0 482.4 h0.9"/></g>
<g stroke="#0072B2" fill="none" stroke-width="1.25" shape-rendering="geometricPrecision"><circle cx="501.4" cy="483.3" r="5.1"/><path stroke-width="1" d="M501.4 477.7 v-0.9 M501.4 488.9 v0.9 M495.8 483.3 h-0.9 M507.0 483.3 h0.9"/></g>
<g stroke="#0072B2" fill="none" stroke-width="1.25" shape-rendering="geometricPrecision"><circle cx="505.6" cy="485.0" r="5.1"/><path stroke-width="1" d="M505.6 479.4 v-0.9 M505.6 490.6 v0.9 M500.0 485.0 h-0.9 M511.2 485.0 h0.9"/></g>
<g stroke="#0072B2" fill="none" stroke-width="1.25" shape-rendering="geometricPrecision"><circle cx="538.7" cy="488.3" r="5.1"/><path stroke-width="1" d="M538.7 482.7 v-0.9 M538.7 493.9 v0.9 M533.1 488.3 h-0.9 M544.3 488.3 h0.9"/></g>
<g stroke="#0072B2" fill="none" stroke-width="1.25" shape-rendering="geometricPrecision"><circle cx="543.5" cy="483.2" r="5.1"/><path stroke-width="1" d="M543.5 477.6 v-0.9 M543.5 488.8 v0.9 M537.9 483.2 h-0.9 M549.1 483.2 h0.9"/></g>
<g stroke="#0072B2" fill="none" stroke-width="1.25" shape-rendering="geometricPrecision"><circle cx="576.5" cy="483.2" r="5.1"/><path stroke-width="1" d="M576.5 477.6 v-0.9 M576.5 488.8 v0.9 M570.9 483.2 h-0.9 M582.1 483.2 h0.9"/></g>
<g stroke="#0072B2" fill="none" stroke-width="1.25" shape-rendering="geometricPrecision"><circle cx="580.7" cy="482.4" r="5.1"/><path stroke-width="1" d="M580.7 476.8 v-0.9 M580.7 488.0 v0.9 M575.1 482.4 h-0.9 M586.3 482.4 h0.9"/></g>
<g stroke="#0072B2" fill="none" stroke-width="1.25" shape-rendering="geometricPrecision"><circle cx="613.4" cy="484.5" r="5.1"/><path stroke-width="1" d="M613.4 478.9 v-0.9 M613.4 490.1 v0.9 M607.8 484.5 h-0.9 M619.0 484.5 h0.9"/></g>
<g stroke="#0072B2" fill="none" stroke-width="1.25" shape-rendering="geometricPrecision"><circle cx="617.6" cy="479.6" r="5.1"/><path stroke-width="1" d="M617.6 474.0 v-0.9 M617.6 485.2 v0.9 M612.0 479.6 h-0.9 M623.2 479.6 h0.9"/></g>
<g stroke="#0072B2" fill="none" stroke-width="1.25" shape-rendering="geometricPrecision"><circle cx="650.5" cy="488.5" r="5.1"/><path stroke-width="1" d="M650.5 482.9 v-0.9 M650.5 494.1 v0.9 M644.9 488.5 h-0.9 M656.1 488.5 h0.9"/></g>
<g stroke="#0072B2" fill="none" stroke-width="1.25" shape-rendering="geometricPrecision"><circle cx="655.5" cy="477.0" r="5.1"/><path stroke-width="1" d="M655.5 471.4 v-0.9 M655.5 482.6 v0.9 M649.9 477.0 h-0.9 M661.1 477.0 h0.9"/></g>
<g stroke="#0072B2" fill="none" stroke-width="1.25" shape-rendering="geometricPrecision"><circle cx="688.3" cy="479.3" r="5.1"/><path stroke-width="1" d="M688.3 473.7 v-0.9 M688.3 484.9 v0.9 M682.7 479.3 h-0.9 M693.9 479.3 h0.9"/></g>
<g stroke="#0072B2" fill="none" stroke-width="1.25" shape-rendering="geometricPrecision"><circle cx="692.5" cy="483.2" r="5.1"/><path stroke-width="1" d="M692.5 477.6 v-0.9 M692.5 488.8 v0.9 M686.9 483.2 h-0.9 M698.1 483.2 h0.9"/></g>
<g stroke="#0072B2" fill="none" stroke-width="1.25" shape-rendering="geometricPrecision"><circle cx="725.6" cy="482.4" r="5.1"/><path stroke-width="1" d="M725.6 476.8 v-0.9 M725.6 488.0 v0.9 M720.0 482.4 h-0.9 M731.2 482.4 h0.9"/></g>
<g stroke="#0072B2" fill="none" stroke-width="1.25" shape-rendering="geometricPrecision"><circle cx="729.5" cy="481.2" r="5.1"/><path stroke-width="1" d="M729.5 475.6 v-0.9 M729.5 486.8 v0.9 M723.9 481.2 h-0.9 M735.1 481.2 h0.9"/></g>
<g stroke="#0072B2" fill="none" stroke-width="1.25" shape-rendering="geometricPrecision"><circle cx="762.7" cy="484.5" r="5.1"/><path stroke-width="1" d="M762.7 478.9 v-0.9 M762.7 490.1 v0.9 M757.1 484.5 h-0.9 M768.3 484.5 h0.9"/></g>
<g stroke="#0072B2" fill="none" stroke-width="1.25" shape-rendering="geometricPrecision"><circle cx="766.8" cy="483.2" r="5.1"/><path stroke-width="1" d="M766.8 477.6 v-0.9 M766.8 488.8 v0.9 M761.2 483.2 h-0.9 M772.4 483.2 h0.9"/></g>
<g stroke="#0072B2" fill="none" stroke-width="1.25" shape-rendering="geometricPrecision"><circle cx="799.8" cy="479.5" r="5.1"/><path stroke-width="1" d="M799.8 473.9 v-0.9 M799.8 485.1 v0.9 M794.2 479.5 h-0.9 M805.4 479.5 h0.9"/></g>
<g stroke="#0072B2" fill="none" stroke-width="1.25" shape-rendering="geometricPrecision"><circle cx="804.5" cy="489.2" r="5.1"/><path stroke-width="1" d="M804.5 483.6 v-0.9 M804.5 494.8 v0.9 M798.9 489.2 h-0.9 M810.1 489.2 h0.9"/></g>
<g stroke="#0072B2" fill="none" stroke-width="1.25" shape-rendering="geometricPrecision"><circle cx="837.5" cy="488.3" r="5.1"/><path stroke-width="1" d="M837.5 482.7 v-0.9 M837.5 493.9 v0.9 M831.9 488.3 h-0.9 M843.1 488.3 h0.9"/></g>
<g stroke="#0072B2" fill="none" stroke-width="1.25" shape-rendering="geometricPrecision"><circle cx="841.7" cy="490.5" r="5.1"/><path stroke-width="1" d="M841.7 484.9 v-0.9 M841.7 496.1 v0.9 M836.1 490.5 h-0.9 M847.3 490.5 h0.9"/></g>
<g stroke="#0072B2" fill="none" stroke-width="1.25" shape-rendering="geometricPrecision"><circle cx="874.5" cy="469.5" r="5.1"/><path stroke-width="1" d="M874.5 463.9 v-0.9 M874.5 475.1 v0.9 M868.9 469.5 h-0.9 M880.1 469.5 h0.9"/></g>
<g stroke="#0072B2" fill="none" stroke-width="1.25" shape-rendering="geometricPrecision"><circle cx="878.5" cy="487.2" r="5.1"/><path stroke-width="1" d="M878.5 481.6 v-0.9 M878.5 492.8 v0.9 M872.9 487.2 h-0.9 M884.1 487.2 h0.9"/></g>
<g stroke="#0072B2" fill="none" stroke-width="1.25" shape-rendering="geometricPrecision"><circle cx="911.5" cy="490.5" r="5.1"/><path stroke-width="1" d="M911.5 484.9 v-0.9 M911.5 496.1 v0.9 M905.9 490.5 h-0.9 M917.1 490.5 h0.9"/></g>
<g stroke="#0072B2" fill="none" stroke-width="1.25" shape-rendering="geometricPrecision"><circle cx="916.5" cy="483.2" r="5.1"/><path stroke-width="1" d="M916.5 477.6 v-0.9 M916.5 488.8 v0.9 M910.9 483.2 h-0.9 M922.1 483.2 h0.9"/></g>
<g stroke="#0072B2" fill="none" stroke-width="1.25" shape-rendering="geometricPrecision"><circle cx="948.8" cy="490.2" r="5.1"/><path stroke-width="1" d="M948.8 484.6 v-0.9 M948.8 495.8 v0.9 M943.2 490.2 h-0.9 M954.4 490.2 h0.9"/></g>
<g stroke="#0072B2" fill="none" stroke-width="1.25" shape-rendering="geometricPrecision"><circle cx="953.5" cy="489.2" r="5.1"/><path stroke-width="1" d="M953.5 483.6 v-0.9 M953.5 494.8 v0.9 M947.9 489.2 h-0.9 M959.1 489.2 h0.9"/></g>
<g stroke="#0072B2" fill="none" stroke-width="1.25" shape-rendering="geometricPrecision"><circle cx="986.5" cy="492.5" r="5.1"/><path stroke-width="1" d="M986.5 486.9 v-0.9 M986.5 498.1 v0.9 M980.9 492.5 h-0.9 M992.1 492.5 h0.9"/></g>
<g fill="#E51E10" stroke="#E51E10" stroke-width="1" shape-rendering="geometricPrecision"><circle cx="95.5" cy="520.4" r="5.5"/><path d="M95.5 514.8 v-0.9 M95.5 526.0 v0.9 M89.9 520.4 h-0.9 M101.1 520.4 h0.9"/></g>
<g fill="#E51E10" stroke="#E51E10" stroke-width="1" shape-rendering="geometricPrecision"><circle cx="128.7" cy="520.4" r="5.5"/><path d="M128.7 514.8 v-0.9 M128.7 526.0 v0.9 M123.1 520.4 h-0.9 M134.3 520.4 h0.9"/></g>
<g fill="#E51E10" stroke="#E51E10" stroke-width="1" shape-rendering="geometricPrecision"><circle cx="170.5" cy="520.4" r="5.5"/><path d="M170.5 514.8 v-0.9 M170.5 526.0 v0.9 M164.9 520.4 h-0.9 M176.1 520.4 h0.9"/></g>
<g fill="#E51E10" stroke="#E51E10" stroke-width="1" shape-rendering="geometricPrecision"><circle cx="203.3" cy="520.4" r="5.5"/><path d="M203.3 514.8 v-0.9 M203.3 526.0 v0.9 M197.7 520.4 h-0.9 M208.9 520.4 h0.9"/></g>
<g fill="#E51E10" stroke="#E51E10" stroke-width="1" shape-rendering="geometricPrecision"><circle cx="207.2" cy="520.4" r="5.5"/><path d="M207.2 514.8 v-0.9 M207.2 526.0 v0.9 M201.6 520.4 h-0.9 M212.8 520.4 h0.9"/></g>
<g fill="#E51E10" stroke="#E51E10" stroke-width="1" shape-rendering="geometricPrecision"><circle cx="240.2" cy="520.4" r="5.5"/><path d="M240.2 514.8 v-0.9 M240.2 526.0 v0.9 M234.6 520.4 h-0.9 M245.8 520.4 h0.9"/></g>
<g fill="#E51E10" stroke="#E51E10" stroke-width="1" shape-rendering="geometricPrecision"><circle cx="244.5" cy="520.4" r="5.5"/><path d="M244.5 514.8 v-0.9 M244.5 526.0 v0.9 M238.9 520.4 h-0.9 M250.1 520.4 h0.9"/></g>
<g fill="#E51E10" stroke="#E51E10" stroke-width="1" shape-rendering="geometricPrecision"><circle cx="277.5" cy="520.4" r="5.5"/><path d="M277.5 514.8 v-0.9 M277.5 526.0 v0.9 M271.9 520.4 h-0.9 M283.1 520.4 h0.9"/></g>
<g fill="#E51E10" stroke="#E51E10" stroke-width="1" shape-rendering="geometricPrecision"><circle cx="282.7" cy="520.4" r="5.5"/><path d="M282.7 514.8 v-0.9 M282.7 526.0 v0.9 M277.1 520.4 h-0.9 M288.3 520.4 h0.9"/></g>
<g fill="#E51E10" stroke="#E51E10" stroke-width="1" shape-rendering="geometricPrecision"><circle cx="315.2" cy="520.4" r="5.5"/><path d="M315.2 514.8 v-0.9 M315.2 526.0 v0.9 M309.6 520.4 h-0.9 M320.8 520.4 h0.9"/></g>
<g fill="#E51E10" stroke="#E51E10" stroke-width="1" shape-rendering="geometricPrecision"><circle cx="319.4" cy="520.4" r="5.5"/><path d="M319.4 514.8 v-0.9 M319.4 526.0 v0.9 M313.8 520.4 h-0.9 M325.0 520.4 h0.9"/></g>
<g fill="#E51E10" stroke="#E51E10" stroke-width="1" shape-rendering="geometricPrecision"><circle cx="352.7" cy="520.4" r="5.5"/><path d="M352.7 514.8 v-0.9 M352.7 526.0 v0.9 M347.1 520.4 h-0.9 M358.3 520.4 h0.9"/></g>
<g fill="#E51E10" stroke="#E51E10" stroke-width="1" shape-rendering="geometricPrecision"><circle cx="356.5" cy="520.4" r="5.5"/><path d="M356.5 514.8 v-0.9 M356.5 526.0 v0.9 M350.9 520.4 h-0.9 M362.1 520.4 h0.9"/></g>
<g fill="#E51E10" stroke="#E51E10" stroke-width="1" shape-rendering="geometricPrecision"><circle cx="390.3" cy="520.4" r="5.5"/><path d="M390.3 514.8 v-0.9 M390.3 526.0 v0.9 M384.7 520.4 h-0.9 M395.9 520.4 h0.9"/></g>
<g fill="#E51E10" stroke="#E51E10" stroke-width="1" shape-rendering="geometricPrecision"><circle cx="394.7" cy="520.4" r="5.5"/><path d="M394.7 514.8 v-0.9 M394.7 526.0 v0.9 M389.1 520.4 h-0.9 M400.3 520.4 h0.9"/></g>
<g fill="#E51E10" stroke="#E51E10" stroke-width="1" shape-rendering="geometricPrecision"><circle cx="427.5" cy="520.4" r="5.5"/><path d="M427.5 514.8 v-0.9 M427.5 526.0 v0.9 M421.9 520.4 h-0.9 M433.1 520.4 h0.9"/></g>
<g fill="#E51E10" stroke="#E51E10" stroke-width="1" shape-rendering="geometricPrecision"><circle cx="431.5" cy="520.4" r="5.5"/><path d="M431.5 514.8 v-0.9 M431.5 526.0 v0.9 M425.9 520.4 h-0.9 M437.1 520.4 h0.9"/></g>
<g fill="#E51E10" stroke="#E51E10" stroke-width="1" shape-rendering="geometricPrecision"><circle cx="464.5" cy="520.4" r="5.5"/><path d="M464.5 514.8 v-0.9 M464.5 526.0 v0.9 M458.9 520.4 h-0.9 M470.1 520.4 h0.9"/></g>
<g fill="#E51E10" stroke="#E51E10" stroke-width="1" shape-rendering="geometricPrecision"><circle cx="468.4" cy="520.4" r="5.5"/><path d="M468.4 514.8 v-0.9 M468.4 526.0 v0.9 M462.8 520.4 h-0.9 M474.0 520.4 h0.9"/></g>
<g fill="#E51E10" stroke="#E51E10" stroke-width="1" shape-rendering="geometricPrecision"><circle cx="501.4" cy="520.4" r="5.5"/><path d="M501.4 514.8 v-0.9 M501.4 526.0 v0.9 M495.8 520.4 h-0.9 M507.0 520.4 h0.9"/></g>
<g fill="#E51E10" stroke="#E51E10" stroke-width="1" shape-rendering="geometricPrecision"><circle cx="505.6" cy="520.4" r="5.5"/><path d="M505.6 514.8 v-0.9 M505.6 526.0 v0.9 M500.0 520.4 h-0.9 M511.2 520.4 h0.9"/></g>
<g fill="#E51E10" stroke="#E51E10" stroke-width="1" shape-rendering="geometricPrecision"><circle cx="538.7" cy="520.4" r="5.5"/><path d="M538.7 514.8 v-0.9 M538.7 526.0 v0.9 M533.1 520.4 h-0.9 M544.3 520.4 h0.9"/></g>
<g fill="#E51E10" stroke="#E51E10" stroke-width="1" shape-rendering="geometricPrecision"><circle cx="543.5" cy="520.4" r="5.5"/><path d="M543.5 514.8 v-0.9 M543.5 526.0 v0.9 M537.9 520.4 h-0.9 M549.1 520.4 h0.9"/></g>
<g fill="#E51E10" stroke="#E51E10" stroke-width="1" shape-rendering="geometricPrecision"><circle cx="576.5" cy="520.4" r="5.5"/><path d="M576.5 514.8 v-0.9 M576.5 526.0 v0.9 M570.9 520.4 h-0.9 M582.1 520.4 h0.9"/></g>
<g fill="#E51E10" stroke="#E51E10" stroke-width="1" shape-rendering="geometricPrecision"><circle cx="580.7" cy="520.4" r="5.5"/><path d="M580.7 514.8 v-0.9 M580.7 526.0 v0.9 M575.1 520.4 h-0.9 M586.3 520.4 h0.9"/></g>
<g fill="#E51E10" stroke="#E51E10" stroke-width="1" shape-rendering="geometricPrecision"><circle cx="613.4" cy="520.4" r="5.5"/><path d="M613.4 514.8 v-0.9 M613.4 526.0 v0.9 M607.8 520.4 h-0.9 M619.0 520.4 h0.9"/></g>
<g fill="#E51E10" stroke="#E51E10" stroke-width="1" shape-rendering="geometricPrecision"><circle cx="617.6" cy="520.4" r="5.5"/><path d="M617.6 514.8 v-0.9 M617.6 526.0 v0.9 M612.0 520.4 h-0.9 M623.2 520.4 h0.9"/></g>
<g fill="#E51E10" stroke="#E51E10" stroke-width="1" shape-rendering="geometricPrecision"><circle cx="650.5" cy="520.4" r="5.5"/><path d="M650.5 514.8 v-0.9 M650.5 526.0 v0.9 M644.9 520.4 h-0.9 M656.1 520.4 h0.9"/></g>
<g fill="#E51E10" stroke="#E51E10" stroke-width="1" shape-rendering="geometricPrecision"><circle cx="655.5" cy="520.4" r="5.5"/><path d="M655.5 514.8 v-0.9 M655.5 526.0 v0.9 M649.9 520.4 h-0.9 M661.1 520.4 h0.9"/></g>
<g fill="#E51E10" stroke="#E51E10" stroke-width="1" shape-rendering="geometricPrecision"><circle cx="688.3" cy="520.4" r="5.5"/><path d="M688.3 514.8 v-0.9 M688.3 526.0 v0.9 M682.7 520.4 h-0.9 M693.9 520.4 h0.9"/></g>
<g fill="#E51E10" stroke="#E51E10" stroke-width="1" shape-rendering="geometricPrecision"><circle cx="692.5" cy="520.4" r="5.5"/><path d="M692.5 514.8 v-0.9 M692.5 526.0 v0.9 M686.9 520.4 h-0.9 M698.1 520.4 h0.9"/></g>
<g fill="#E51E10" stroke="#E51E10" stroke-width="1" shape-rendering="geometricPrecision"><circle cx="725.6" cy="520.4" r="5.5"/><path d="M725.6 514.8 v-0.9 M725.6 526.0 v0.9 M720.0 520.4 h-0.9 M731.2 520.4 h0.9"/></g>
<g fill="#E51E10" stroke="#E51E10" stroke-width="1" shape-rendering="geometricPrecision"><circle cx="729.5" cy="520.4" r="5.5"/><path d="M729.5 514.8 v-0.9 M729.5 526.0 v0.9 M723.9 520.4 h-0.9 M735.1 520.4 h0.9"/></g>
<g fill="#E51E10" stroke="#E51E10" stroke-width="1" shape-rendering="geometricPrecision"><circle cx="762.7" cy="520.4" r="5.5"/><path d="M762.7 514.8 v-0.9 M762.7 526.0 v0.9 M757.1 520.4 h-0.9 M768.3 520.4 h0.9"/></g>
<g fill="#E51E10" stroke="#E51E10" stroke-width="1" shape-rendering="geometricPrecision"><circle cx="766.8" cy="520.4" r="5.5"/><path d="M766.8 514.8 v-0.9 M766.8 526.0 v0.9 M761.2 520.4 h-0.9 M772.4 520.4 h0.9"/></g>
<g fill="#E51E10" stroke="#E51E10" stroke-width="1" shape-rendering="geometricPrecision"><circle cx="799.8" cy="520.4" r="5.5"/><path d="M799.8 514.8 v-0.9 M799.8 526.0 v0.9 M794.2 520.4 h-0.9 M805.4 520.4 h0.9"/></g>
<g fill="#E51E10" stroke="#E51E10" stroke-width="1" shape-rendering="geometricPrecision"><circle cx="804.5" cy="520.4" r="5.5"/><path d="M804.5 514.8 v-0.9 M804.5 526.0 v0.9 M798.9 520.4 h-0.9 M810.1 520.4 h0.9"/></g>
<g fill="#E51E10" stroke="#E51E10" stroke-width="1" shape-rendering="geometricPrecision"><circle cx="837.5" cy="520.4" r="5.5"/><path d="M837.5 514.8 v-0.9 M837.5 526.0 v0.9 M831.9 520.4 h-0.9 M843.1 520.4 h0.9"/></g>
<g fill="#E51E10" stroke="#E51E10" stroke-width="1" shape-rendering="geometricPrecision"><circle cx="841.7" cy="520.4" r="5.5"/><path d="M841.7 514.8 v-0.9 M841.7 526.0 v0.9 M836.1 520.4 h-0.9 M847.3 520.4 h0.9"/></g>
<g fill="#E51E10" stroke="#E51E10" stroke-width="1" shape-rendering="geometricPrecision"><circle cx="874.5" cy="520.4" r="5.5"/><path d="M874.5 514.8 v-0.9 M874.5 526.0 v0.9 M868.9 520.4 h-0.9 M880.1 520.4 h0.9"/></g>
<g fill="#E51E10" stroke="#E51E10" stroke-width="1" shape-rendering="geometricPrecision"><circle cx="878.5" cy="520.4" r="5.5"/><path d="M878.5 514.8 v-0.9 M878.5 526.0 v0.9 M872.9 520.4 h-0.9 M884.1 520.4 h0.9"/></g>
<g fill="#E51E10" stroke="#E51E10" stroke-width="1" shape-rendering="geometricPrecision"><circle cx="911.5" cy="520.4" r="5.5"/><path d="M911.5 514.8 v-0.9 M911.5 526.0 v0.9 M905.9 520.4 h-0.9 M917.1 520.4 h0.9"/></g>
<g fill="#E51E10" stroke="#E51E10" stroke-width="1" shape-rendering="geometricPrecision"><circle cx="916.5" cy="520.4" r="5.5"/><path d="M916.5 514.8 v-0.9 M916.5 526.0 v0.9 M910.9 520.4 h-0.9 M922.1 520.4 h0.9"/></g>
<g fill="#E51E10" stroke="#E51E10" stroke-width="1" shape-rendering="geometricPrecision"><circle cx="948.8" cy="520.4" r="5.5"/><path d="M948.8 514.8 v-0.9 M948.8 526.0 v0.9 M943.2 520.4 h-0.9 M954.4 520.4 h0.9"/></g>
<g fill="#E51E10" stroke="#E51E10" stroke-width="1" shape-rendering="geometricPrecision"><circle cx="953.5" cy="520.4" r="5.5"/><path d="M953.5 514.8 v-0.9 M953.5 526.0 v0.9 M947.9 520.4 h-0.9 M959.1 520.4 h0.9"/></g>
<g fill="#E51E10" stroke="#E51E10" stroke-width="1" shape-rendering="geometricPrecision"><circle cx="986.5" cy="520.4" r="5.5"/><path d="M986.5 514.8 v-0.9 M986.5 526.0 v0.9 M980.9 520.4 h-0.9 M992.1 520.4 h0.9"/></g>
<path d="M169.5 444.6 L161.3 456.2 L177.7 456.2 Z" fill="none" stroke="#000" stroke-width="1"/>
<path d="M163.2 413.3 h12.6 M169.5 407.0 v12.6" fill="none" stroke="#9400D3" stroke-width="1"/>
<path d="M844.1 413.4 h12.6 M850.4 407.1 v12.6" fill="none" stroke="#9400D3" stroke-width="1"/>
<text x="910.6" y="93.6" text-anchor="end" textLength="181.4" lengthAdjust="spacing">&quot;Ypingresult.txt&quot; using 1:2</text>
<path d="M923 90.5 H970" stroke="#9400D3" stroke-width="1" fill="none"/>
<text x="910.6" y="112.6" text-anchor="end" textLength="199.9" lengthAdjust="spacing">&quot;YTimetcpping.txt&quot; using 1:2</text>
<path d="M923 109.5 H970" stroke="#009E73" stroke-width="1" fill="none"/>
<text x="910.6" y="131.6" text-anchor="end" textLength="248.8" lengthAdjust="spacing">&quot;YCustPingSiteTimes.txt&quot; using 1:2</text>
<path d="M923 128.5 H970" stroke="#56B4E9" stroke-width="1" fill="none"/>
<text x="909.6" y="150.6" text-anchor="end" textLength="194.3" lengthAdjust="spacing">&quot;Yofflineresult.txt&quot; using 1:2</text>
<text x="910.6" y="169.6" text-anchor="end" textLength="206.3" lengthAdjust="spacing">&quot;Ytcpoff_record.txt&quot; using 1:2</text>
<text x="910.6" y="188.6" text-anchor="end" textLength="217.0" lengthAdjust="spacing">&quot;Ygooglecurltime.txt&quot; using 1:2</text>
<text x="910.6" y="207.6" text-anchor="end" textLength="243.8" lengthAdjust="spacing">&quot;Ygooglecurldnstime.txt&quot; using 1:2</text>
<text x="909.6" y="226.6" text-anchor="end" textLength="235.5" lengthAdjust="spacing">&quot;YCustPingTimeout.txt&quot; using 1:2</text>
<text x="909.6" y="245.6" text-anchor="end" textLength="205.6" lengthAdjust="spacing">&quot;YHPpingresult.txt&quot; using 1:2</text>
<rect x="940.5" y="141.5" width="12" height="12" fill="none" stroke="#E69F00" stroke-width="1"/>
<rect x="940.2" y="160.2" width="12.6" height="12.6" fill="#F0E442"/>
<g stroke="#0072B2" fill="none" stroke-width="1.25" shape-rendering="geometricPrecision"><circle cx="946.5" cy="185.5" r="5.1"/><path stroke-width="1" d="M946.5 179.9 v-0.9 M946.5 191.1 v0.9 M940.9 185.5 h-0.9 M952.1 185.5 h0.9"/></g>
<g fill="#E51E10" stroke="#E51E10" stroke-width="1" shape-rendering="geometricPrecision"><circle cx="946.5" cy="204.5" r="5.5"/><path d="M946.5 198.9 v-0.9 M946.5 210.1 v0.9 M940.9 204.5 h-0.9 M952.1 204.5 h0.9"/></g>
<path d="M946.5 215.7 L938.3 227.3 L954.7 227.3 Z" fill="none" stroke="#000" stroke-width="1"/>
<path d="M940.2 242.5 h12.6 M946.5 236.2 v12.6" fill="none" stroke="#9400D3" stroke-width="1"/>
<path d="M94.5 74.5 H989.5 V522.5 H94.5 Z" fill="none" stroke="#000" stroke-width="1"/>
<text x="81.0" y="526.0" text-anchor="end" textLength="8.9" lengthAdjust="spacing">0</text>
<text x="81.0" y="417.0" text-anchor="end" textLength="26.7" lengthAdjust="spacing">500</text>
<text x="81.0" y="307.0" text-anchor="end" textLength="35.6" lengthAdjust="spacing">1000</text>
<text x="81.0" y="198.0" text-anchor="end" textLength="35.6" lengthAdjust="spacing">1500</text>
<text x="81.0" y="89.0" text-anchor="end" textLength="35.6" lengthAdjust="spacing">2000</text>
<text x="92.2" y="544.6" text-anchor="middle" textLength="40.0" lengthAdjust="spacing">00:00</text>
<text x="167.2" y="544.6" text-anchor="middle" textLength="40.0" lengthAdjust="spacing">02:00</text>
<text x="241.2" y="544.6" text-anchor="middle" textLength="40.0" lengthAdjust="spacing">04:00</text>
<text x="316.2" y="544.6" text-anchor="middle" textLength="40.0" lengthAdjust="spacing">06:00</text>
<text x="390.2" y="544.6" text-anchor="middle" textLength="40.0" lengthAdjust="spacing">08:00</text>
<text x="465.2" y="544.6" text-anchor="middle" textLength="40.0" lengthAdjust="spacing">10:00</text>
<text x="540.2" y="544.6" text-anchor="middle" textLength="40.0" lengthAdjust="spacing">12:00</text>
<text x="614.2" y="544.6" text-anchor="middle" textLength="40.0" lengthAdjust="spacing">14:00</text>
<text x="689.2" y="544.6" text-anchor="middle" textLength="40.0" lengthAdjust="spacing">16:00</text>
<text x="763.2" y="544.6" text-anchor="middle" textLength="40.0" lengthAdjust="spacing">18:00</text>
<text x="838.2" y="544.6" text-anchor="middle" textLength="40.0" lengthAdjust="spacing">20:00</text>
<text x="912.2" y="544.6" text-anchor="middle" textLength="40.0" lengthAdjust="spacing">22:00</text>
<text x="987.2" y="544.6" text-anchor="middle" textLength="40.0" lengthAdjust="spacing">00:00</text>
<text x="539.6" y="49.3" text-anchor="middle" textLength="521.3" lengthAdjust="spacing">pi21 Mar 10  near/far ICMP/TCP ping and curl times [No msmt 1AM-2AM]</text>
<text x="539.6" y="572.5" text-anchor="middle" textLength="713.0" lengthAdjust="spacing">&lt;-START at 2AM Yday, right to 12AM Tday-&gt;, then wrap left to 1AM Tday&lt;- [ignore connecting lines]</text>
<text transform="translate(16.7,298.5) rotate(-90)" text-anchor="middle">msec</text>
</svg></body></html>
